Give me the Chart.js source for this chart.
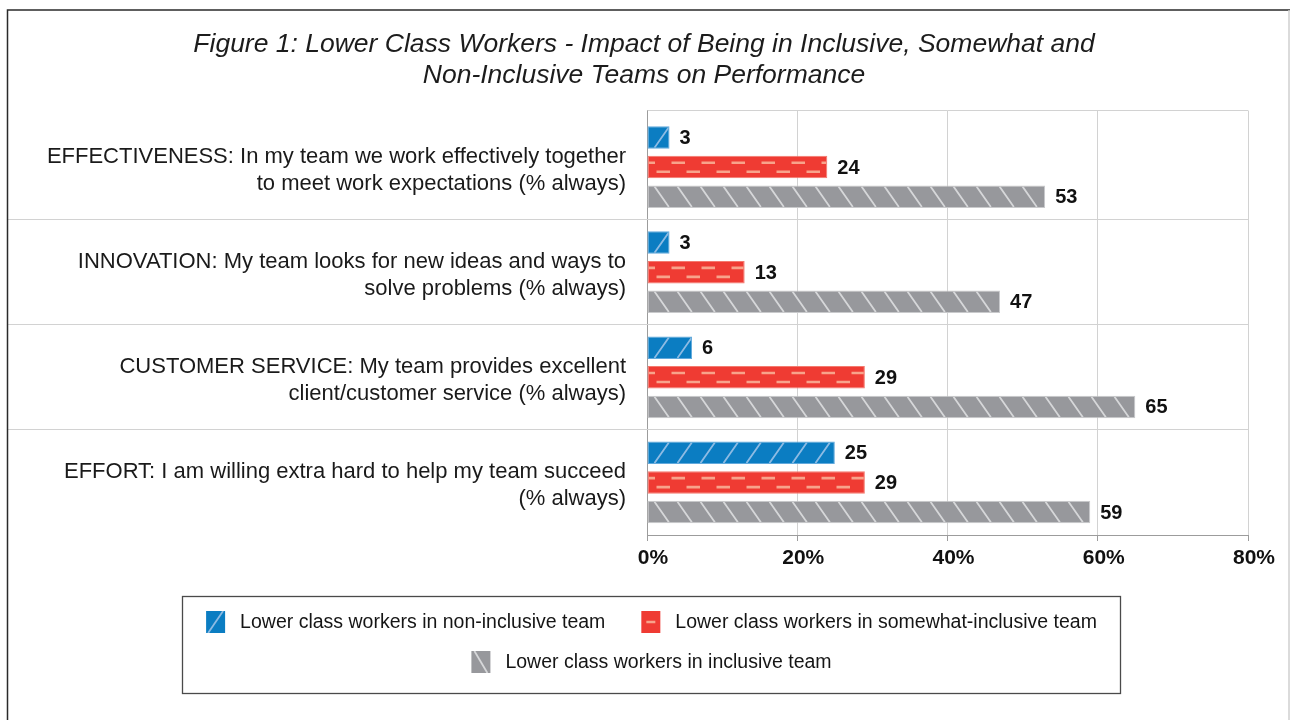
<!DOCTYPE html>
<html>
<head>
<meta charset="utf-8">
<script src="https://cdn.jsdelivr.net/npm/chart.js@4"></script>
<style>
  html, body { margin: 0; padding: 0; background: #ffffff; }
  #wrap { width: 1290px; height: 720px; position: relative; }
</style>
</head>
<body>
<div id="wrap"><canvas id="chart" width="1290" height="720"></canvas></div>
<script>
// ---- data ----
const titleLines = [
  'Figure 1: Lower Class Workers - Impact of Being in Inclusive, Somewhat and',
  'Non-Inclusive Teams on Performance'
];
const categories = [
  ['EFFECTIVENESS: In my team we work effectively together', 'to meet work expectations (% always)'],
  ['INNOVATION: My team looks for new ideas and ways to', 'solve problems (% always)'],
  ['CUSTOMER SERVICE: My team provides excellent', 'client/customer service (% always)'],
  ['EFFORT: I am willing extra hard to help my team succeed', '(% always)']
];
const seriesNames = [
  'Lower class workers in non-inclusive team',
  'Lower class workers in somewhat-inclusive team',
  'Lower class workers in inclusive team'
];
const nonInclusive = [3, 3, 6, 25];
const somewhatInclusive = [24, 13, 29, 29];
const inclusive = [53, 47, 65, 59];
const xTickValues = [0, 20, 40, 60, 80];

// ---- styling ----
const FONT = "'Liberation Sans', Arial, Helvetica, sans-serif";
Chart.defaults.font.family = FONT;

const looks = [
  { fill: '#0b7dc2', edge: '#62a9dc', stripe: '#8dbbe3', kind: 'slash' },
  { fill: '#ef3b33', edge: '#f47a6e', stripe: '#f8a38b', kind: 'dash' },
  { fill: '#97989c', edge: '#c9cacc', stripe: '#d6d7d9', kind: 'backslash' }
];

// same half-pixel snapping Chart.js uses for 1px grid lines
const snap = v => Math.round(v - 0.5) + 0.5;

// draws the texture of one rectangle (bar or legend swatch)
function drawTexture(ctx, kind, color, left, top, right, bottom, swatch) {
  ctx.save();
  ctx.beginPath();
  ctx.rect(left, top, right - left, bottom - top);
  ctx.clip();
  ctx.strokeStyle = color;
  const h = bottom - top;
  if (kind === 'slash' || kind === 'backslash') {
    ctx.lineWidth = 1.8;
    ctx.beginPath();
    if (swatch) {
      if (kind === 'slash') { ctx.moveTo(left + 2, bottom); ctx.lineTo(right - 2, top); }
      else { ctx.moveTo(left + 3, top); ctx.lineTo(right - 3, bottom); }
    } else {
      const run = h * 0.7, step = 23;
      for (let sx = left - step + 6; sx < right + run; sx += step) {
        if (kind === 'slash') { ctx.moveTo(sx, bottom); ctx.lineTo(sx + run, top); }
        else { ctx.moveTo(sx, top); ctx.lineTo(sx + run, bottom); }
      }
    }
    ctx.stroke();
  } else {
    ctx.lineWidth = 2.6;
    if (swatch) {
      ctx.beginPath();
      ctx.moveTo(left + 5, (top + bottom) / 2);
      ctx.lineTo(right - 5, (top + bottom) / 2);
      ctx.stroke();
    } else {
      ctx.setLineDash([13.5, 16.5]);
      ctx.beginPath();
      ctx.lineDashOffset = 7;
      ctx.moveTo(left, top + h * 0.29);
      ctx.lineTo(right, top + h * 0.29);
      ctx.stroke();
      ctx.beginPath();
      ctx.lineDashOffset = -8;
      ctx.moveTo(left, top + h * 0.73);
      ctx.lineTo(right, top + h * 0.73);
      ctx.stroke();
    }
  }
  ctx.restore();
}

// page frame, plot border and category separators
const framePlugin = {
  id: 'frame',
  beforeDraw(chart) {
    const { ctx, width, height } = chart;
    ctx.save();
    ctx.fillStyle = '#ffffff';
    ctx.fillRect(0, 0, width, height);
    ctx.restore();
  },
  beforeDatasetsDraw(chart) {
    const { ctx, chartArea, scales } = chart;
    const y = scales.y, x = scales.x;
    const plotTop = 110.5;
    ctx.save();
    ctx.lineWidth = 1;
    // separators between categories, running under the labels too
    ctx.strokeStyle = '#d2d2d2';
    for (let i = 0; i < categories.length - 1; i++) {
      const yy = snap((y.getPixelForTick(i) + y.getPixelForTick(i + 1)) / 2);
      ctx.beginPath();
      ctx.moveTo(8, yy);
      ctx.lineTo(chartArea.right, yy);
      ctx.stroke();
    }
    // plot border above the first category
    ctx.beginPath();
    ctx.moveTo(chartArea.left, plotTop);
    ctx.lineTo(chartArea.right, plotTop);
    ctx.stroke();
    xTickValues.forEach((v, i) => {
      const px = snap(x.getPixelForValue(v));
      ctx.strokeStyle = i === 0 ? '#9c9c9c' : '#d2d2d2';
      ctx.beginPath();
      ctx.moveTo(px, plotTop);
      ctx.lineTo(px, chartArea.top + 1);
      ctx.stroke();
    });
    ctx.restore();
  },
  afterDraw(chart) {
    const { ctx, width, height } = chart;
    ctx.save();
    ctx.strokeStyle = '#2a2a2a';
    ctx.lineWidth = 1.5;
    ctx.beginPath();
    ctx.moveTo(7.5, height);
    ctx.lineTo(7.5, 10);
    ctx.lineTo(width, 10);
    ctx.stroke();
    ctx.strokeStyle = '#cfcfcf';
    ctx.lineWidth = 1.5;
    ctx.beginPath();
    ctx.moveTo(width - 1, 10);
    ctx.lineTo(width - 1, height);
    ctx.stroke();
    ctx.restore();
  }
};

// bar textures and value labels
const barDecorPlugin = {
  id: 'barDecor',
  afterDatasetsDraw(chart) {
    const ctx = chart.ctx;
    chart.data.datasets.forEach((ds, di) => {
      const meta = chart.getDatasetMeta(di);
      const look = looks[di];
      meta.data.forEach((bar, i) => {
        const p = bar.getProps(['x', 'y', 'base', 'height'], true);
        const left = Math.min(p.base, p.x), right = Math.max(p.base, p.x);
        const top = p.y - p.height / 2, bottom = p.y + p.height / 2;
        drawTexture(ctx, look.kind, look.stripe, left + 1, top + 1, right - 1, bottom - 1, false);
        ctx.save();
        ctx.font = 'bold 20px ' + FONT;
        ctx.fillStyle = '#111111';
        ctx.textAlign = 'left';
        ctx.textBaseline = 'middle';
        ctx.fillText(String(ds.data[i]), right + 10, p.y + 1);
        ctx.restore();
      });
    });
  }
};

// boxed legend underneath the plot
const boxLegendPlugin = {
  id: 'boxLegend',
  afterDraw(chart) {
    const ctx = chart.ctx;
    const box = { left: 182.5, top: 596.5, right: 1120.5, bottom: 693.5 };
    const cx = (box.left + box.right) / 2;
    const rows = [[0, 1], [2]];
    const rowY = [622, 662];
    const sw = 19, sh = 22, gapText = 15, gapItem = 36;
    ctx.save();
    ctx.strokeStyle = '#4a4a4a';
    ctx.lineWidth = 1.3;
    ctx.strokeRect(box.left, box.top, box.right - box.left, box.bottom - box.top);
    ctx.font = '19.5px ' + FONT;
    ctx.textBaseline = 'middle';
    ctx.textAlign = 'left';
    rows.forEach((row, r) => {
      const widths = row.map(di => sw + gapText + ctx.measureText(chart.data.datasets[di].label).width);
      const total = widths.reduce((a, b) => a + b, 0) + gapItem * (row.length - 1);
      let x = cx - total / 2;
      row.forEach((di, k) => {
        const look = looks[di];
        const top = rowY[r] - sh / 2;
        ctx.fillStyle = look.fill;
        ctx.fillRect(x, top, sw, sh);
        drawTexture(ctx, look.kind, look.stripe, x, top, x + sw, top + sh, true);
        ctx.fillStyle = '#151515';
        ctx.fillText(chart.data.datasets[di].label, x + sw + gapText, rowY[r] + 1);
        x += widths[k] + gapItem;
      });
    });
    ctx.restore();
  }
};

const seriesValues = [nonInclusive, somewhatInclusive, inclusive];

new Chart(document.getElementById('chart'), {
  type: 'bar',
  data: {
    labels: categories,
    datasets: seriesValues.map((vals, i) => ({
      label: seriesNames[i],
      data: vals,
      backgroundColor: looks[i].fill,
      borderColor: looks[i].edge,
      borderWidth: 1,
      borderSkipped: false,
      categoryPercentage: 0.845,
      barPercentage: 0.76
    }))
  },
  options: {
    responsive: false,
    animation: false,
    indexAxis: 'y',
    layout: { padding: { left: 40, right: 42, top: 0, bottom: 145 } },
    plugins: {
      legend: { display: false },
      tooltip: { enabled: false },
      title: {
        display: true,
        text: titleLines,
        color: '#1c1c1c',
        font: { family: FONT, size: 26.5, style: 'italic', weight: 'normal', lineHeight: 1.17 },
        padding: { top: 29.5, bottom: 23 }
      }
    },
    scales: {
      x: {
        type: 'linear',
        min: 0,
        max: 80,
        afterBuildTicks(scale) { scale.ticks = xTickValues.map(v => ({ value: v })); },
        ticks: {
          callback: v => v + '%',
          color: '#111111',
          font: { size: 21, weight: 'bold' },
          padding: 5,
          labelOffset: 6
        },
        grid: { color: '#d2d2d2', tickColor: '#9c9c9c', tickLength: 6 },
        border: { color: '#9c9c9c' },
        afterFit(scale) { scale.height = 40; }
      },
      y: {
        ticks: {
          color: '#1a1a1a',
          font: { size: 22, lineHeight: 1.23 },
          padding: 21,
          labelOffset: 3
        },
        grid: { display: false, drawTicks: false },
        border: { color: '#9c9c9c' },
        afterFit(scale) { scale.width = 607; }
      }
    }
  },
  plugins: [framePlugin, barDecorPlugin, boxLegendPlugin]
});
</script>
</body>
</html>
